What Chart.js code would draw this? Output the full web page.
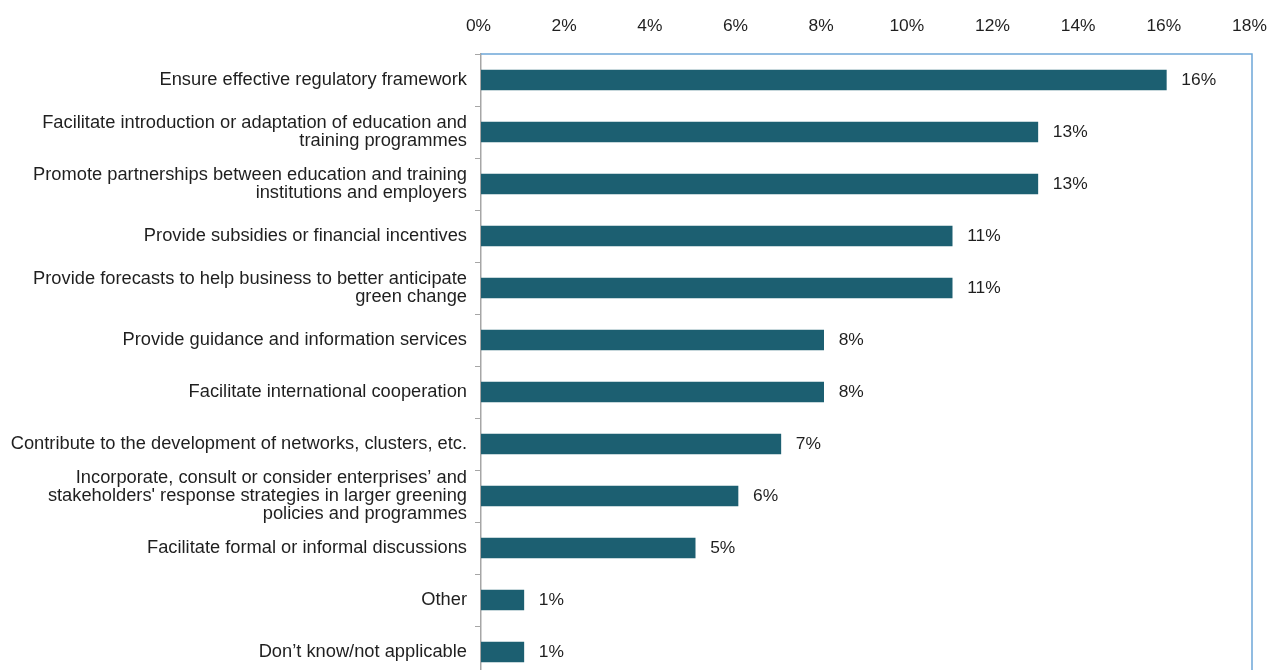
<!DOCTYPE html>
<html>
<head>
<meta charset="utf-8">
<script src="https://cdn.jsdelivr.net/npm/chart.js@4/dist/chart.umd.min.js"></script>
<style>
  html, body { margin: 0; padding: 0; background: #fff; overflow: hidden; }
  #wrap { width: 1267px; height: 678px; }
</style>
</head>
<body>
<div id="wrap"><canvas id="c" width="1267" height="678"></canvas></div>
<script>
const categories = [
  ["Ensure effective regulatory framework"],
  ["Facilitate introduction or adaptation of education and", "training programmes"],
  ["Promote partnerships between education and training", "institutions and employers"],
  ["Provide subsidies or financial incentives"],
  ["Provide forecasts to help business to better anticipate", "green change"],
  ["Provide guidance and information services"],
  ["Facilitate international cooperation"],
  ["Contribute to the development of networks, clusters, etc."],
  ["Incorporate, consult or consider enterprises\u2019 and", "stakeholders' response strategies in larger greening", "policies and programmes"],
  ["Facilitate formal or informal discussions"],
  ["Other"],
  ["Don\u2019t know/not applicable"]
];
const shares = [16, 13, 13, 11, 11, 8, 8, 7, 6, 5, 1, 1];
const xTickMin = 0, xTickMax = 18, xTickStep = 2;

const FONT = '"Liberation Sans", Arial, sans-serif';
const TEXT = '#1f1f1f';

const frame = {
  id: 'frame',
  afterDatasetsDraw(chart) {
    const { ctx, chartArea: a } = chart;
    ctx.save();
    ctx.strokeStyle = '#6ea6d8';
    ctx.lineWidth = 1.5;
    ctx.beginPath();
    ctx.moveTo(a.left, a.top);
    ctx.lineTo(a.right, a.top);
    ctx.lineTo(a.right, chart.height + 5);
    ctx.stroke();
    ctx.restore();
  }
};

const valueLabels = {
  id: 'valueLabels',
  afterDatasetsDraw(chart) {
    const { ctx } = chart;
    const meta = chart.getDatasetMeta(0);
    ctx.save();
    ctx.font = '17.4px ' + FONT;
    ctx.fillStyle = TEXT;
    ctx.textAlign = 'left';
    ctx.textBaseline = 'middle';
    meta.data.forEach((bar, i) => {
      ctx.fillText(shares[i] + '%', bar.x + 15, bar.y);
    });
    ctx.restore();
  }
};

new Chart(document.getElementById('c'), {
  type: 'bar',
  data: {
    labels: categories,
    datasets: [{
      data: shares,
      backgroundColor: '#1c5f71',
      borderWidth: 0,
      barThickness: 20
    }]
  },
  options: {
    indexAxis: 'y',
    responsive: false,
    animation: false,
    layout: { padding: { top: 0, right: 15, bottom: 0, left: 0 } },
    plugins: { legend: { display: false }, tooltip: { enabled: false } },
    scales: {
      x: {
        position: 'top',
        min: xTickMin,
        max: xTickMax,
        ticks: {
          stepSize: xTickStep,
          callback: v => v + '%',
          font: { family: FONT, size: 17.4 },
          color: TEXT,
          padding: 17,
          labelOffset: -2.5,
          maxRotation: 0
        },
        grid: { display: false, drawTicks: false },
        border: { display: false },
        afterFit: s => { s.height = 54; s.paddingLeft = 0; s.paddingRight = 0; }
      },
      y: {
        ticks: {
          font: { family: FONT, size: 18.3, lineHeight: 1.0 },
          color: TEXT,
          padding: 8,
          autoSkip: false
        },
        grid: {
          offset: true,
          drawOnChartArea: false,
          drawTicks: true,
          tickLength: 6,
          color: '#a6a6a6'
        },
        border: { display: true, color: '#a6a6a6', width: 1.5 },
        afterFit: s => { s.width = 481; s.paddingTop = 0; s.paddingBottom = 0; }
      }
    }
  },
  plugins: [frame, valueLabels]
});
</script>
</body>
</html>
